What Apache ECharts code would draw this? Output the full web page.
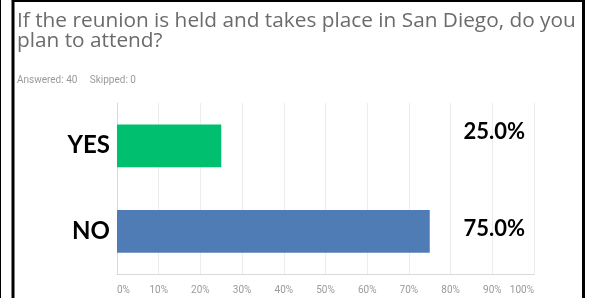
<!DOCTYPE html>
<html>
<head>
<meta charset="utf-8">
<script src="https://cdn.jsdelivr.net/npm/echarts@6/dist/echarts.min.js"></script>
<style>
html,body{margin:0;padding:0;background:#fff;}
#chart{width:591px;height:298px;}
</style>
</head>
<body>
<div id="chart"></div>
<script>
const titleText = 'If the reunion is held and takes place in San Diego, do you\nplan to attend?';
const subText = 'Answered: 40     Skipped: 0';
const categories = ['YES', 'NO'];
const values = [25.0, 75.0];
const barColors = ['#00bf6f', '#507cb6'];
const xTicks = { min: 0, max: 100, interval: 10 };

const chart = echarts.init(document.getElementById('chart'), null, { renderer: 'canvas' });
const pctLabels = values.map(v => v.toFixed(1) + '%');

chart.setOption({
  animation: false,
  backgroundColor: '#fff',
  title: [
    {
      text: titleText,
      left: 17, top: 11, padding: 0,
      textStyle: { fontFamily: 'Open Sans', fontWeight: 'normal', fontSize: 20.8, lineHeight: 20, color: '#6b6b6b' }
    },
    {
      text: subText,
      left: 17, top: 75, padding: 0,
      textStyle: { fontFamily: 'Roboto', fontWeight: 'normal', fontSize: 10, color: '#9a9a9a' }
    }
  ],
  grid: { left: 117, right: 57, top: 103, bottom: 24 },
  xAxis: {
    type: 'value',
    min: xTicks.min, max: xTicks.max, interval: xTicks.interval,
    axisLine: { show: true, lineStyle: { color: '#d9d9d9' } },
    axisTick: { show: false },
    splitLine: { show: true, lineStyle: { color: '#ececec' } },
    axisLabel: {
      formatter: '{value}%', color: '#9a9a9a', fontSize: 10, fontFamily: 'Roboto', margin: 11,
      alignMinLabel: 'left', alignMaxLabel: 'right'
    }
  },
  yAxis: [
    {
      type: 'category', data: categories, inverse: true,
      axisLine: { show: true, lineStyle: { color: '#d9d9d9' } },
      axisTick: { show: false },
      axisLabel: { color: '#000', fontSize: 24, fontWeight: 'bold', fontFamily: 'Lato', margin: 7 }
    },
    {
      type: 'category', data: pctLabels, inverse: true, position: 'right',
      axisLine: { show: false }, axisTick: { show: false },
      axisLabel: {
        inside: true, margin: 9,
        formatter: (v, i) => i === 0 ? '{a|' + v + '}' : '{b|' + v + '}',
        rich: {
          a: { color: '#000', fontSize: 22, fontWeight: 'bold', fontFamily: 'Lato', padding: [0, 0, 28, 0] },
          b: { color: '#000', fontSize: 22, fontWeight: 'bold', fontFamily: 'Lato', padding: [0, 0, 4, 0] }
        }
      }
    }
  ],
  series: [{
    type: 'bar',
    yAxisIndex: 0,
    barWidth: '50%',
    data: values.map((v, i) => ({ value: v, itemStyle: { color: barColors[i] } }))
  }],
  graphic: [
    { type: 'line', shape: { x1: 0.5, y1: 0, x2: 0.5, y2: 298 }, style: { stroke: '#000', lineWidth: 1 } },
    { type: 'line', shape: { x1: 13, y1: 0, x2: 13, y2: 298 }, style: { stroke: '#000', lineWidth: 3 } },
    { type: 'line', shape: { x1: 12, y1: 1, x2: 585, y2: 1 }, style: { stroke: '#000', lineWidth: 2 } },
    { type: 'line', shape: { x1: 583.5, y1: 0, x2: 583.5, y2: 298 }, style: { stroke: '#000', lineWidth: 3 } }
  ]
});
</script>
</body>
</html>
